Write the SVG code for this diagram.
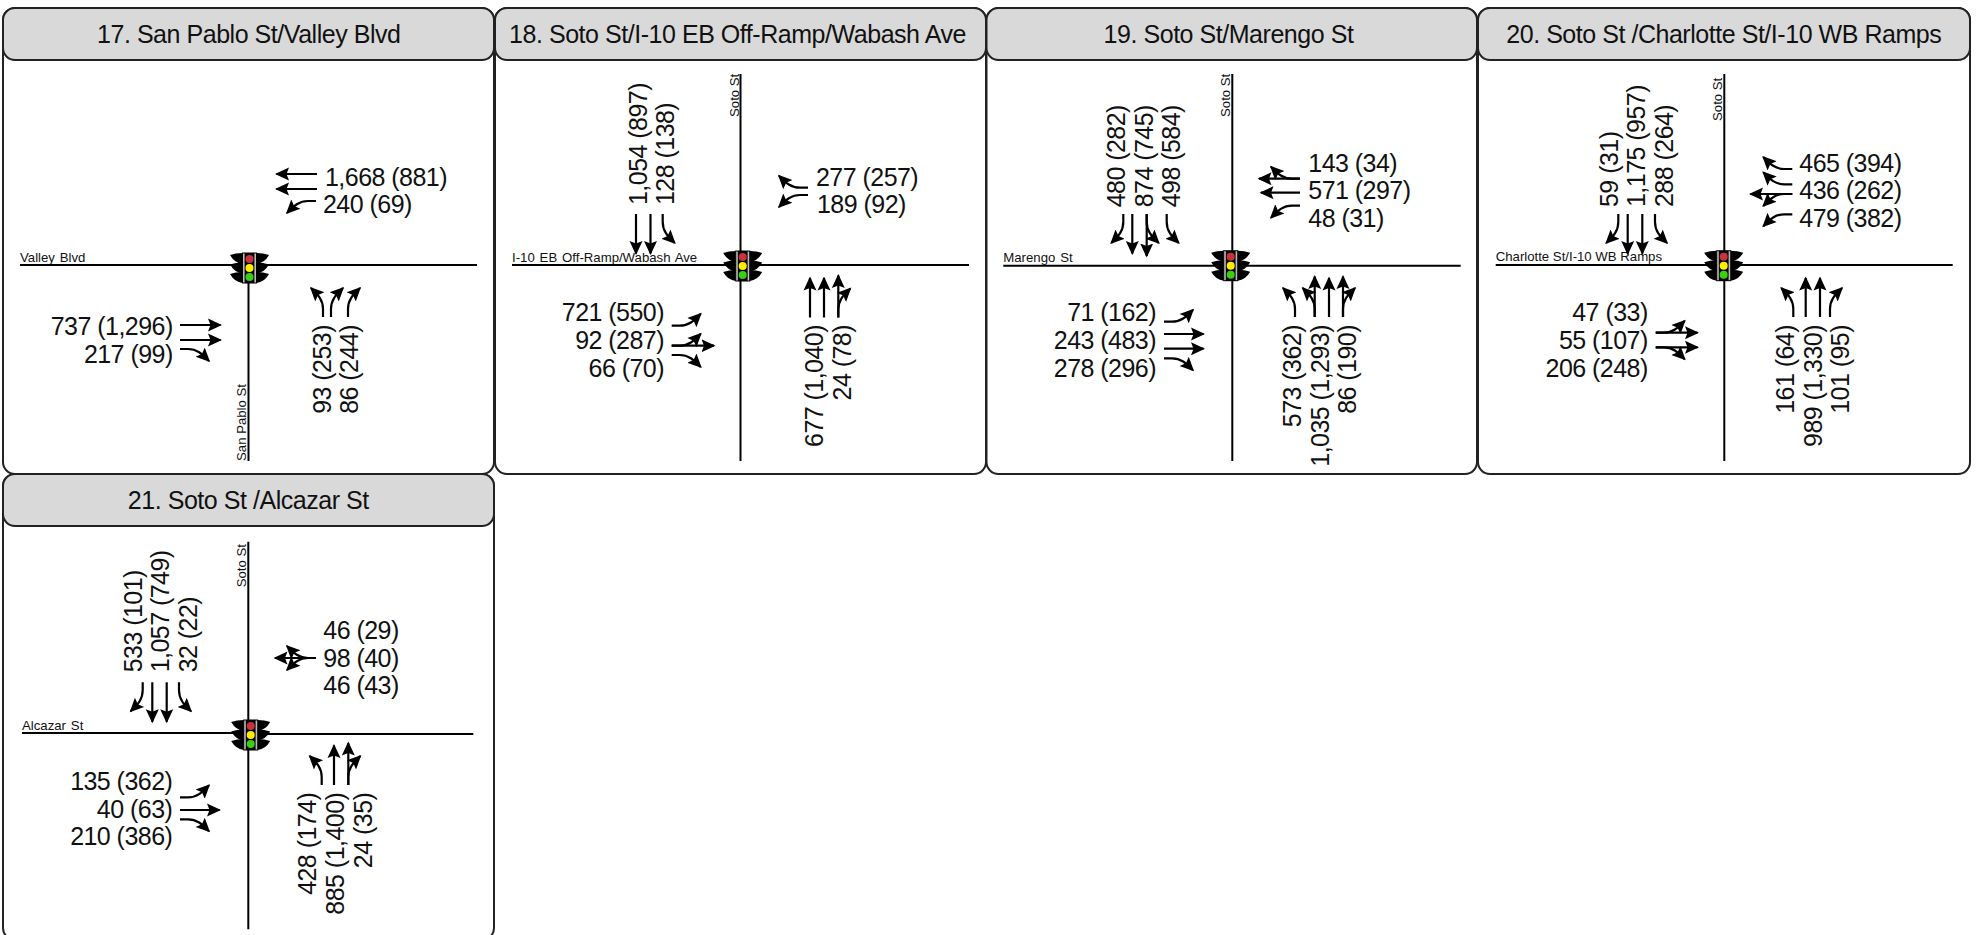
<svg xmlns="http://www.w3.org/2000/svg" width="1984" height="935" viewBox="0 0 1984 935">
<style>
text{font-family:"Liberation Sans",Arial,sans-serif;fill:#111}
.panel{fill:#fff;stroke:#222;stroke-width:2}
.head{fill:#d9d9d9;stroke:#222;stroke-width:2}
.title{font-size:25px;letter-spacing:-.46px;text-anchor:middle}
.v{font-size:25px;letter-spacing:-.54px}
.e{text-anchor:end}
.n{font-size:13.2px}
.ws{word-spacing:1.2px}
.road{fill:none;stroke:#000;stroke-width:2}
.a{fill:none;stroke:#000;stroke-width:2.2;marker-end:url(#h)}
</style>
<defs>
<marker id="h" markerUnits="userSpaceOnUse" markerWidth="16" markerHeight="16" refX="12.5" refY="8" orient="auto"><path d="M0 1.5L14 8L0 14.5L2.5 8Z" fill="#000"/></marker>
<path id="R" class="a" d="M0 0H8C18 0 23 6 29 12"/>
<path id="L" class="a" d="M0 0H8C18 0 23 -6 29 -12"/>
<g id="sig">
<path id="w" d="M-7 -15Q-14 -15 -19.5 -13Q-15 -5 -7 -4Z" fill="#000"/>
<use href="#w" y="9.5"/><use href="#w" y="19"/>
<use href="#w" transform="scale(-1 1)"/><use href="#w" transform="scale(-1 1)" y="9.5"/><use href="#w" transform="scale(-1 1)" y="19"/>
<rect x="-7.5" y="-15.5" width="15" height="31" fill="#000"/>
<rect x="-6.5" y="-14.5" width="1.6" height="29" fill="#bbb"/><rect x="4.9" y="-14.5" width="1.6" height="29" fill="#bbb"/>
<circle cy="-9" r="4" fill="#c8323c"/><circle r="4" fill="#ffee00"/><circle cy="9" r="4" fill="#38d010"/>
</g>
</defs>
<rect width="1984" height="935" fill="#fff"/>

<g id="panel-17">
<rect class="panel" x="3" y="8" width="491" height="466" rx="12"/>
<rect class="head" x="3" y="8" width="491" height="52" rx="12"/>
<text class="title" x="248.8" y="43.3">17. San Pablo St/Valley Blvd</text>
<text class="n ws" x="20" y="262">Valley Blvd</text>
<text class="n" transform="translate(246 461) rotate(-90)">San Pablo St</text>
<text class="v" x="325" y="186">1,668 (881)</text>
<text class="v" x="323" y="213">240 (69)</text>
<text class="v e" x="172.7" y="335">737 (1,296)</text>
<text class="v e" x="172.7" y="363">217 (99)</text>
<text class="v e" transform="translate(331 325) rotate(-90)">93 (253)</text>
<text class="v e" transform="translate(358 325) rotate(-90)">86 (244)</text>
</g>

<g id="panel-18">
<rect class="panel" x="495" y="8" width="491" height="466" rx="12"/>
<rect class="head" x="495" y="8" width="491" height="52" rx="12"/>
<text class="title" x="737.5" y="43.3">18. Soto St/I-10 EB Off-Ramp/Wabash Ave</text>
<text class="n ws" x="512" y="262">I-10 EB Off-Ramp/Wabash Ave</text>
<text class="n" transform="translate(738.7 117) rotate(-90)">Soto St</text>
<text class="v" transform="translate(646.7 205) rotate(-90)">1,054 (897)</text>
<text class="v" transform="translate(674.3 205) rotate(-90)">128 (138)</text>
<text class="v" x="816" y="186">277 (257)</text>
<text class="v" x="817" y="213">189 (92)</text>
<text class="v e" x="664" y="321">721 (550)</text>
<text class="v e" x="664" y="349">92 (287)</text>
<text class="v e" x="664" y="377">66 (70)</text>
<text class="v e" transform="translate(823.3 325) rotate(-90)">677 (1,040)</text>
<text class="v e" transform="translate(851 325) rotate(-90)">24 (78)</text>
</g>

<g id="panel-19">
<rect class="panel" x="986.5" y="8" width="490.5" height="466" rx="12"/>
<rect class="head" x="986.5" y="8" width="490.5" height="52" rx="12"/>
<text class="title" x="1228.5" y="43.3">19. Soto St/Marengo St</text>
<text class="n ws" x="1003.3" y="262">Marengo St</text>
<text class="n" transform="translate(1230 117) rotate(-90)">Soto St</text>
<text class="v" transform="translate(1125 207.3) rotate(-90)">480 (282)</text>
<text class="v" transform="translate(1152.7 207.3) rotate(-90)">874 (745)</text>
<text class="v" transform="translate(1180 207.3) rotate(-90)">498 (584)</text>
<text class="v" x="1308.3" y="171.7">143 (34)</text>
<text class="v" x="1308.3" y="199">571 (297)</text>
<text class="v" x="1308.3" y="226.7">48 (31)</text>
<text class="v e" x="1156" y="321">71 (162)</text>
<text class="v e" x="1156" y="349">243 (483)</text>
<text class="v e" x="1156" y="377">278 (296)</text>
<text class="v e" transform="translate(1301 325) rotate(-90)">573 (362)</text>
<text class="v e" transform="translate(1329 325) rotate(-90)">1,035 (1,293)</text>
<text class="v e" transform="translate(1356 325) rotate(-90)">86 (190)</text>
</g>

<g id="panel-20">
<rect class="panel" x="1478" y="8" width="492" height="466" rx="12"/>
<rect class="head" x="1478" y="8" width="492" height="52" rx="12"/>
<text class="title" x="1723.8" y="43.3">20. Soto St /Charlotte St/I-10 WB Ramps</text>
<text class="n" x="1495.7" y="261">Charlotte St/I-10 WB Ramps</text>
<text class="n" transform="translate(1721.7 121) rotate(-90)">Soto St</text>
<text class="v" transform="translate(1617.7 207) rotate(-90)">59 (31)</text>
<text class="v" transform="translate(1645 207) rotate(-90)">1,175 (957)</text>
<text class="v" transform="translate(1672.7 207) rotate(-90)">288 (264)</text>
<text class="v" x="1799.3" y="171.7">465 (394)</text>
<text class="v" x="1799.3" y="199">436 (262)</text>
<text class="v" x="1799.3" y="226.7">479 (382)</text>
<text class="v e" x="1647.7" y="321">47 (33)</text>
<text class="v e" x="1647.7" y="349">55 (107)</text>
<text class="v e" x="1647.7" y="377">206 (248)</text>
<text class="v e" transform="translate(1794 325) rotate(-90)">161 (64)</text>
<text class="v e" transform="translate(1821.7 325) rotate(-90)">989 (1,330)</text>
<text class="v e" transform="translate(1849 325) rotate(-90)">101 (95)</text>
</g>

<g id="panel-21">
<rect class="panel" x="3" y="474" width="491" height="466" rx="12"/>
<rect class="head" x="3" y="474" width="491" height="52" rx="12"/>
<text class="title" x="248.3" y="509">21. Soto St /Alcazar St</text>
<text class="n ws" x="22" y="730">Alcazar St</text>
<text class="n" transform="translate(246 587.3) rotate(-90)">Soto St</text>
<text class="v" transform="translate(141.7 672.3) rotate(-90)">533 (101)</text>
<text class="v" transform="translate(169.3 672.3) rotate(-90)">1,057 (749)</text>
<text class="v" transform="translate(196.7 672.3) rotate(-90)">32 (22)</text>
<text class="v" x="323.3" y="639">46 (29)</text>
<text class="v" x="323.3" y="666.7">98 (40)</text>
<text class="v" x="323.3" y="694">46 (43)</text>
<text class="v e" x="172.3" y="790">135 (362)</text>
<text class="v e" x="172.3" y="817.7">40 (63)</text>
<text class="v e" x="172.3" y="845">210 (386)</text>
<text class="v e" transform="translate(316 792.7) rotate(-90)">428 (174)</text>
<text class="v e" transform="translate(344.3 792.7) rotate(-90)">885 (1,400)</text>
<text class="v e" transform="translate(371.7 792.7) rotate(-90)">24 (35)</text>
</g>

<g id="connectors">
<g id="roads">
<path class="road" d="M20 265H477M248.5 265V461"/>
<path class="road" d="M512 265H969M740.5 74V461"/>
<path class="road" d="M1003.3 265.7H1460.7M1232.3 74V461"/>
<path class="road" d="M1495.7 265H1952.7M1724.3 74V461"/>
<path class="road" d="M22 733H250M250 734H473.3M248.3 541.7V929.3"/>
</g>
<g id="arrows-17">
<path class="a" d="M180 325H220.5"/><path class="a" d="M180 340H220.5"/>
<use href="#R" transform="translate(180 349)"/>
<path class="a" d="M317 174H276.5"/><path class="a" d="M317 189H276.5"/>
<use href="#L" transform="translate(316 201) rotate(180)"/>
<use href="#L" transform="translate(323 317) rotate(-90)"/>
<use href="#R" transform="translate(331 317) rotate(-90)"/>
<use href="#R" transform="translate(348 317) rotate(-90)"/>
</g>
<g id="arrows-18">
<path class="a" d="M636 214V253.5"/><path class="a" d="M650.5 214V253.5"/>
<use href="#L" transform="translate(662.7 214) rotate(90)"/>
<use href="#R" transform="translate(808 187.7) rotate(180)"/>
<use href="#L" transform="translate(808 195) rotate(180)"/>
<use href="#L" transform="translate(671.7 325.7)"/>
<path class="a" d="M671.7 345.7H714"/>
<use href="#L" transform="translate(671.7 345.7)"/>
<use href="#R" transform="translate(671.7 355)"/>
<path class="a" d="M810 317.5V278"/><path class="a" d="M824 317.5V278"/><path class="a" d="M838.3 317.5V275.5"/>
<use href="#R" transform="translate(838.3 317.5) rotate(-90)"/>
</g>
<g id="arrows-19">
<use href="#R" transform="translate(1123.3 214) rotate(90)"/>
<path class="a" d="M1132.3 214V253.5"/><path class="a" d="M1146.7 214V256"/>
<use href="#L" transform="translate(1146.7 214) rotate(90)"/>
<use href="#L" transform="translate(1166.7 214) rotate(90)"/>
<path class="a" d="M1300 178.7H1259"/>
<use href="#R" transform="translate(1300 178.7) rotate(180)"/>
<path class="a" d="M1300 192.7H1261"/>
<use href="#L" transform="translate(1300 205.7) rotate(180)"/>
<use href="#L" transform="translate(1164 321.7)"/>
<path class="a" d="M1164 334H1203.5"/><path class="a" d="M1164 348.7H1203.5"/>
<use href="#R" transform="translate(1164 358.3)"/>
<use href="#L" transform="translate(1295 317) rotate(-90)"/>
<path class="a" d="M1314.7 317V276.5"/>
<use href="#L" transform="translate(1314.7 317) rotate(-90)"/>
<path class="a" d="M1329 317V278"/><path class="a" d="M1343 317V276.5"/>
<use href="#R" transform="translate(1343 317) rotate(-90)"/>
</g>
<g id="arrows-20">
<use href="#R" transform="translate(1618.3 214) rotate(90)"/>
<path class="a" d="M1627.7 214V253.5"/><path class="a" d="M1642.3 214V253.5"/>
<use href="#L" transform="translate(1655 214) rotate(90)"/>
<use href="#R" transform="translate(1792.3 169) rotate(180)"/>
<use href="#R" transform="translate(1792.3 184.3) rotate(180)"/>
<path class="a" d="M1792.3 194H1750.5"/>
<use href="#L" transform="translate(1792.3 194) rotate(180)"/>
<use href="#L" transform="translate(1792.3 214.3) rotate(180)"/>
<path class="a" d="M1655.7 332.7H1697.5"/>
<use href="#L" transform="translate(1655.7 332.7)"/>
<path class="a" d="M1655.7 347.3H1697.5"/>
<use href="#R" transform="translate(1655.7 347.3)"/>
<use href="#L" transform="translate(1793.3 317) rotate(-90)"/>
<path class="a" d="M1805.7 317V278"/><path class="a" d="M1820 317V278"/>
<use href="#R" transform="translate(1830 317) rotate(-90)"/>
</g>
<g id="arrows-21">
<use href="#R" transform="translate(142.7 682.3) rotate(90)"/>
<path class="a" d="M152.3 682.3V721.8"/><path class="a" d="M166.7 682.3V721.8"/>
<use href="#L" transform="translate(179 682.3) rotate(90)"/>
<path class="a" d="M316 658H275"/>
<use href="#R" transform="translate(316 658) rotate(180)"/>
<use href="#L" transform="translate(316 658) rotate(180)"/>
<use href="#L" transform="translate(180 797.3)"/>
<path class="a" d="M180 810H219.5"/>
<use href="#R" transform="translate(180 819.3)"/>
<use href="#L" transform="translate(321.7 785) rotate(-90)"/>
<path class="a" d="M334 785V745.5"/><path class="a" d="M348.3 785V743"/>
<use href="#R" transform="translate(348.3 785) rotate(-90)"/>
</g>
</g>

<g id="signal-17"><use href="#sig" x="249.5" y="268"/></g>
<g id="signal-18"><use href="#sig" x="742.7" y="266"/></g>
<g id="signal-19"><use href="#sig" x="1230.7" y="265.7"/></g>
<g id="signal-20"><use href="#sig" x="1723.7" y="265.7"/></g>
<g id="signal-21"><use href="#sig" x="250.7" y="735"/></g>
</svg>
